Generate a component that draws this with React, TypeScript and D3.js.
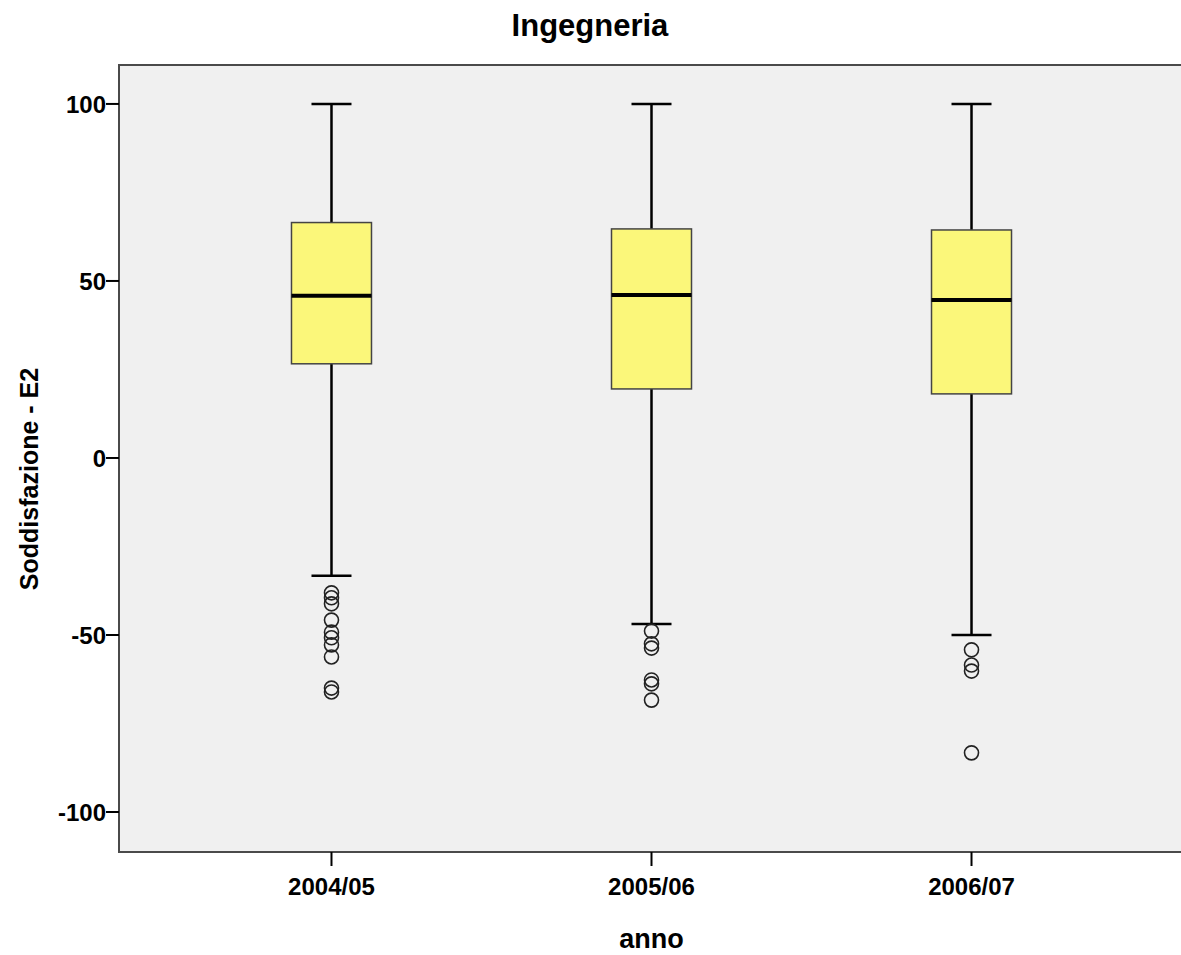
import React from "react";
import * as d3 from "d3";

const categories = ["2004/05", "2005/06", "2006/07"];
const q1 = [26.6, 19.5, 18.1];
const median = [45.8, 46.0, 44.6];
const q3 = [66.5, 64.7, 64.4];
const whiskerLow = [-33.3, -46.9, -50.0];
const whiskerHigh = [100, 100, 100];
const outliers2004 = [-38.1, -39.5, -41.2, -45.8, -49.2, -50.8, -52.8, -56.2, -65.0, -66.1];
const outliers2005 = [-48.9, -52.5, -53.7, -62.7, -63.8, -68.4];
const outliers2006 = [-54.2, -58.5, -60.2, -83.3];
const outliers = [outliers2004, outliers2005, outliers2006];
const yTicks = [100, 50, 0, -50, -100];

const W = 1181;
const H = 955;
const left = 119;
const right = 1184;
const top = 65;
const bottom = 852;
const FONT = "'Liberation Sans', Arial, sans-serif";

export default function App() {
  const y = d3.scaleLinear().domain([-111.3, 111]).range([bottom, top]);
  const x = d3.scalePoint<string>().domain(categories).range([left, right]).padding(0.664);
  const boxW = 80;
  const capW = 40;

  return (
    <svg width={W} height={H} style={{ position: "absolute", left: 0, top: 0 }} fontFamily={FONT}>
      <rect x={0} y={0} width={W} height={H} fill="#ffffff" />
      <rect x={left} y={top} width={right - left} height={bottom - top} fill="#f0f0f0" stroke="#4a4a4a" strokeWidth={2} />
      {yTicks.map((t) => (
        <g key={t}>
          <line x1={left - 13} x2={left} y1={y(t)} y2={y(t)} stroke="#000" strokeWidth={2} />
          <text x={left - 13} y={y(t)} dy="0.36em" textAnchor="end" fontSize={24} fontWeight="bold" fill="#000">
            {t}
          </text>
        </g>
      ))}
      {categories.map((c) => (
        <g key={c}>
          <line x1={x(c)} x2={x(c)} y1={bottom} y2={bottom + 14} stroke="#000" strokeWidth={2} />
          <text x={x(c)} y={895} textAnchor="middle" fontSize={24} fontWeight="bold" fill="#000">
            {c}
          </text>
        </g>
      ))}
      {categories.map((c, i) => {
        const cx = x(c) as number;
        return (
          <g key={c}>
            <line x1={cx} x2={cx} y1={y(whiskerHigh[i])} y2={y(q3[i])} stroke="#000" strokeWidth={2.5} />
            <line x1={cx} x2={cx} y1={y(q1[i])} y2={y(whiskerLow[i])} stroke="#000" strokeWidth={2.5} />
            <line x1={cx - capW / 2} x2={cx + capW / 2} y1={y(whiskerHigh[i])} y2={y(whiskerHigh[i])} stroke="#000" strokeWidth={2.5} />
            <line x1={cx - capW / 2} x2={cx + capW / 2} y1={y(whiskerLow[i])} y2={y(whiskerLow[i])} stroke="#000" strokeWidth={2.5} />
            <rect x={cx - boxW / 2} y={y(q3[i])} width={boxW} height={y(q1[i]) - y(q3[i])} fill="#fbf77a" stroke="#444" strokeWidth={1.5} />
            <line x1={cx - boxW / 2} x2={cx + boxW / 2} y1={y(median[i])} y2={y(median[i])} stroke="#000" strokeWidth={4} />
            {outliers[i].map((v, j) => (
              <circle key={j} cx={cx} cy={y(v)} r={7} fill="none" stroke="#222" strokeWidth={1.6} />
            ))}
          </g>
        );
      })}
      <text x={590} y={36} textAnchor="middle" fontSize={31} fontWeight="bold" fill="#000">
        Ingegneria
      </text>
      <text x={x("2005/06")} y={948} textAnchor="middle" fontSize={27} fontWeight="bold" fill="#000">
        anno
      </text>
      <text transform={`translate(38, 479) rotate(-90)`} textAnchor="middle" fontSize={25} fontWeight="bold" fill="#000">
        Soddisfazione - E2
      </text>
    </svg>
  );
}
